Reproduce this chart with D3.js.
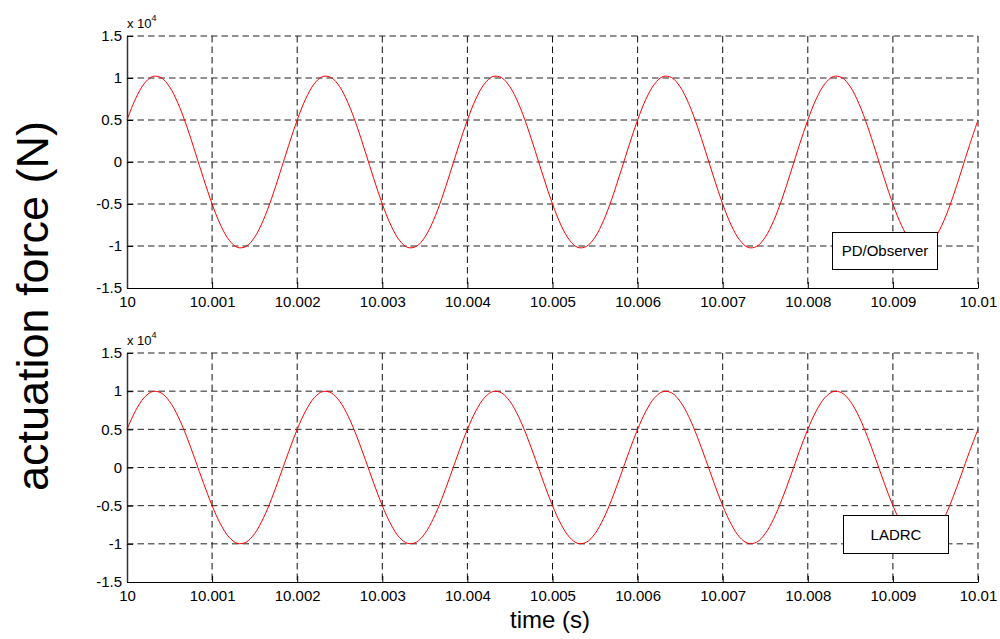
<!DOCTYPE html>
<html><head><meta charset="utf-8">
<script src="https://cdn.jsdelivr.net/npm/d3@7"></script>
<style>body{margin:0;background:#fff}svg{display:block}text{font-family:"Liberation Sans",Arial,Helvetica,sans-serif;fill:#000}</style>
</head><body><svg id="c" width="1000" height="639"></svg>
<script>
// ---- data (values in units of 1e4 N), sampled every 0.0001 s from t = 10 s ----
const tStart = 10, tStep = 0.0001;
const xTicks = [10,10.001,10.002,10.003,10.004,10.005,10.006,10.007,10.008,10.009,10.01];
const xTickLabels = ["10","10.001","10.002","10.003","10.004","10.005","10.006","10.007","10.008","10.009","10.01"];
const yTicks = [-1.5,-1,-0.5,0,0.5,1,1.5];
const yTickLabels = ["-1.5","-1","-0.5","0","0.5","1","1.5"];
const legendTop = "PD/Observer";
const legendBottom = "LADRC";
const pdObserver = [
 0.500,0.752,0.930,1.018,1.005,0.895,0.697,0.431,0.121,-0.199,-0.500,-0.752,-0.930,-1.018,-1.005,-0.895,-0.697,-0.431,-0.121,0.199,
 0.500,0.752,0.930,1.018,1.005,0.895,0.697,0.431,0.121,-0.199,-0.500,-0.752,-0.930,-1.018,-1.005,-0.895,-0.697,-0.431,-0.121,0.199,
 0.500,0.752,0.930,1.018,1.005,0.895,0.697,0.431,0.121,-0.199,-0.500,-0.752,-0.930,-1.018,-1.005,-0.895,-0.697,-0.431,-0.121,0.199,
 0.500,0.752,0.930,1.018,1.005,0.895,0.697,0.431,0.121,-0.199,-0.500,-0.752,-0.930,-1.018,-1.005,-0.895,-0.697,-0.431,-0.121,0.199,
 0.500,0.752,0.930,1.018,1.005,0.895,0.697,0.431,0.121,-0.199,-0.500,-0.752,-0.930,-1.018,-1.005,-0.895,-0.697,-0.431,-0.121,0.199,
 0.500];
const ladrc = [
 0.500,0.743,0.914,0.995,0.978,0.866,0.669,0.407,0.105,-0.208,-0.500,-0.743,-0.914,-0.995,-0.978,-0.866,-0.669,-0.407,-0.105,0.208,
 0.500,0.743,0.914,0.995,0.978,0.866,0.669,0.407,0.105,-0.208,-0.500,-0.743,-0.914,-0.995,-0.978,-0.866,-0.669,-0.407,-0.105,0.208,
 0.500,0.743,0.914,0.995,0.978,0.866,0.669,0.407,0.105,-0.208,-0.500,-0.743,-0.914,-0.995,-0.978,-0.866,-0.669,-0.407,-0.105,0.208,
 0.500,0.743,0.914,0.995,0.978,0.866,0.669,0.407,0.105,-0.208,-0.500,-0.743,-0.914,-0.995,-0.978,-0.866,-0.669,-0.407,-0.105,0.208,
 0.500,0.743,0.914,0.995,0.978,0.866,0.669,0.407,0.105,-0.208,-0.500,-0.743,-0.914,-0.995,-0.978,-0.866,-0.669,-0.407,-0.105,0.208,
 0.500];

const svg = d3.select("#c");
const L = 127, R = 978;
const x = d3.scaleLinear().domain([10,10.01]).range([L,R]);

function panel(top, bottom, values, legend, box) {
  const y = d3.scaleLinear().domain([-1.5,1.5]).range([bottom, top]);
  const g = svg.append("g");
  // grid
  g.selectAll(".gx").data(xTicks.slice(1)).join("line")
    .attr("x1", d=>x(d)).attr("x2", d=>x(d)).attr("y1", top).attr("y2", bottom)
    .attr("stroke","#111").attr("stroke-width",1).attr("stroke-dasharray","6.5,4");
  g.selectAll(".gy").data(yTicks.slice(1)).join("line")
    .attr("x1", L).attr("x2", R).attr("y1", d=>y(d)).attr("y2", d=>y(d))
    .attr("stroke","#222").attr("stroke-width",1).attr("stroke-dasharray","6.5,4");
  // data line
  const line = d3.line().x((d,i)=>x(tStart + i*tStep)).y(d=>y(d)).curve(d3.curveCatmullRom);
  g.append("path").datum(values).attr("d", line).attr("fill","none").attr("stroke","#ff0000").attr("stroke-width",1);
  // axes
  const xa = d3.axisBottom(x).tickValues(xTicks).tickFormat((d,i)=>xTickLabels[i]).tickSizeInner(-6).tickSizeOuter(0).tickPadding(8);
  const ax = g.append("g").attr("transform",`translate(0,${bottom})`).call(xa);
  const ya = d3.axisLeft(y).tickValues(yTicks).tickFormat((d,i)=>yTickLabels[i]).tickSizeInner(-6).tickSizeOuter(0).tickPadding(5);
  const ay = g.append("g").attr("transform",`translate(${L},0)`).call(ya);
  [ax, ay].forEach(a=>{
    a.selectAll("text").style("font-family",'"Liberation Sans",Arial,sans-serif').style("font-size","15px").attr("fill","#000");
    a.selectAll("line,path").attr("stroke","#000");
  });
  ay.select(".domain").attr("stroke","#333").attr("stroke-width",1.5);
  // exponent label
  const ex = g.append("text").attr("x", L).attr("y", top - 8).style("font-size","13px");
  ex.append("tspan").text("x 10");
  ex.append("tspan").attr("dy",-7).style("font-size","9px").text("4");
  // legend box
  g.append("rect").attr("x",box[0]).attr("y",box[1]).attr("width",box[2]).attr("height",box[3])
    .attr("fill","#fff").attr("stroke","#000").attr("stroke-width",1);
  g.append("text").attr("x",box[0]+box[2]/2).attr("y",box[1]+box[3]/2+5)
    .attr("text-anchor","middle").style("font-size","15px").text(legend);
}

panel(36, 288, pdObserver, legendTop, [832.5, 232.5, 105, 37]);
panel(353, 582, ladrc, legendBottom, [843.5, 515.5, 105, 38]);

svg.append("text").attr("transform","translate(48,306) rotate(-90)").attr("text-anchor","middle")
  .style("font-size","45px").text("actuation force (N)");
svg.append("text").attr("x",550).attr("y",628).attr("text-anchor","middle").style("font-size","24px").text("time (s)");
</script></body></html>
